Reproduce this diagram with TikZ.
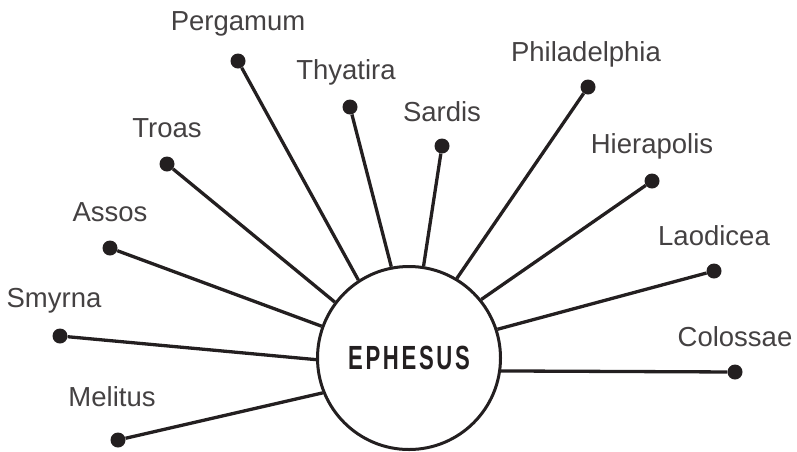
\documentclass[tikz,border=0pt]{standalone}
\usepackage{fontspec}
\setmainfont{Liberation Sans}
\newfontfamily\hubfont[FakeStretch=0.66,LetterSpace=8]{Liberation Sans}
\usepackage{tikz}
\usetikzlibrary{positioning}
\definecolor{ink}{HTML}{231F20}
\tikzset{
  % städer
  town/.style={circle,fill=ink,inner sep=0pt,minimum size=15pt},
  townname/.style={font=\fontsize{27.5}{30}\selectfont,text=ink!85,inner sep=0pt,
                   text depth=6pt},
  road/.style={draw=ink,line width=3.3pt},
  hub/.style={circle,draw=ink,fill=white,line width=3pt,minimum size=183pt,
              font=\hubfont\bfseries\fontsize{33.5}{36}\selectfont,text=ink},
}

\begin{document}
\begin{tikzpicture}[x=1pt,y=-1pt]
\useasboundingbox (0,0) rectangle (797,451);
  \node[hub] (eph) at (409,358) {EPHESUS};
  \node[town] (mel) at (118,440) {};
  \node[town] (smy) at (60,336) {};
  \node[town] (ass) at (110,248) {};
  \node[town] (tro) at (167,164) {};
  \node[town] (per) at (238,61) {};
  \node[town] (thy) at (350,107) {};
  \node[town] (sar) at (442,146) {};
  \node[town] (phi) at (588,87) {};
  \node[town] (hie) at (652,181) {};
  \node[town] (lao) at (714,271) {};
  \node[town] (col) at (735,372) {};
  \node[townname,above=20pt of mel,xshift=-6pt] (melL) {Melitus};
  \node[townname,above=15pt of smy,xshift=-6pt] (smyL) {Smyrna};
  \node[townname,above=13pt of ass] (assL) {Assos};
  \node[townname,above=13pt of tro] (troL) {Troas};
  \node[townname,above=17pt of per] (perL) {Pergamum};
  \node[townname,above=14pt of thy,xshift=-4pt] (thyL) {Thyatira};
  \node[townname,above=11pt of sar] (sarL) {Sardis};
  \node[townname,above=12pt of phi,xshift=-2pt] (phiL) {Philadelphia};
  \node[townname,above=14pt of hie] (hieL) {Hierapolis};
  \node[townname,above=12pt of lao] (laoL) {Laodicea};
  \node[townname,above=12pt of col] (colL) {Colossae};
  \draw[road] (mel) -- (eph.202.5);
  \draw[road] (smy) -- (eph.181.2);
  \draw[road] (ass) -- (eph.160.4);
  \draw[road] (tro) -- (eph.143.3);
  \draw[road] (per) -- (eph.123.2);
  \draw[road] (thy) -- (eph.101.9);
  \draw[road] (sar) -- (eph.81.3);
  \draw[road] (phi) -- (eph.59.4);
  \draw[road] (hie) -- (eph.39.4);
  \draw[road] (lao) -- (eph.18);
  \draw[road] (col) -- (eph.-8.6);
\end{tikzpicture}
\end{document}
